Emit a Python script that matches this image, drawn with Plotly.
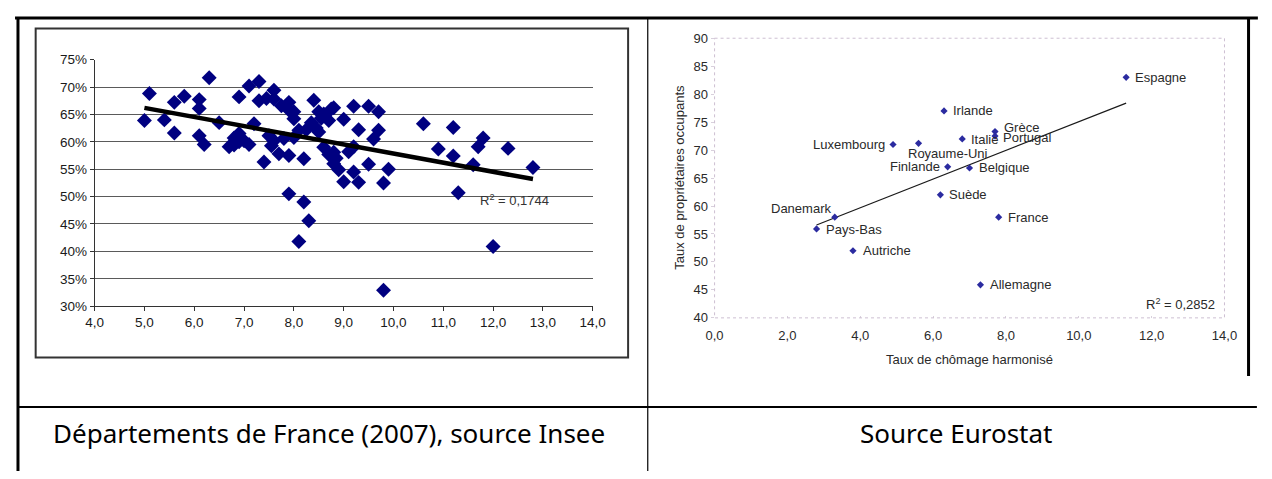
import plotly.graph_objects as go

# The page body keeps its default 8px margin, so the figure is drawn 8px in
# from the window's corner and sized to fill the rest of the 1272x479 window.
OFF = 8
W, H = 1272 - 2 * OFF, 479 - 2 * OFF


def px(x):
    return (x - OFF) / W


def py(y):
    return 1 - (y - OFF) / H


# ---------------- Left chart: Départements de France (2007) ----------------
dep_chomage = [5.0, 5.1, 5.4, 5.6, 5.6, 5.8, 6.1, 6.1, 6.1, 6.2, 6.3, 6.5, 6.7, 6.8, 6.8,
               6.9, 6.9, 7.0, 7.1, 7.1, 7.2, 7.3, 7.3, 7.4, 7.45, 7.5, 7.55, 7.6, 7.6, 7.7,
               7.75, 7.8, 7.9, 7.9, 7.9, 8.0, 8.0, 8.1, 8.1, 8.2, 8.2, 8.25, 8.3, 8.4, 8.45,
               8.5, 8.6, 8.6, 8.7, 8.7, 8.75, 8.8, 8.8, 8.8, 8.9, 9.0, 9.0, 9.1, 9.2, 9.2,
               9.2, 9.3, 9.3, 9.5, 9.5, 9.6, 9.7, 9.7, 9.8, 9.8, 9.9, 10.6, 10.9, 11.2, 11.2,
               11.3, 11.6, 11.7, 11.8, 12.0, 12.3, 12.8, 7.6, 8.35, 8.55, 8.0, 6.9, 8.5, 7.9, 8.85]
dep_proprio_pct = [63.9, 68.8, 64.0, 61.6, 67.2, 68.3, 67.7, 66.1, 61.1, 59.5, 71.7, 63.5, 59.1, 60.7, 59.4,
                   68.2, 61.5, 60.2, 59.5, 70.2, 63.3, 71.0, 67.5, 56.3, 67.9, 61.1, 59.3, 69.4, 67.8, 57.8,
                   66.6, 60.6, 67.2, 57.5, 50.5, 65.5, 64.2, 41.8, 62.1, 56.9, 49.0, 62.2, 45.6, 67.6, 62.5,
                   65.5, 65.1, 59.0, 63.9, 57.7, 66.0, 66.2, 56.0, 58.1, 54.9, 64.1, 52.7, 58.2, 59.1, 54.5,
                   66.5, 62.2, 52.6, 66.5, 55.9, 60.5, 65.5, 62.1, 52.5, 32.9, 55.0, 63.3, 58.7, 62.6, 57.4,
                   50.7, 55.8, 59.1, 60.7, 40.9, 58.8, 55.3, 60.2, 63.5, 64.3, 60.8, 60.0, 61.8, 65.8, 57.0]
dep_trend_x = [5.0, 12.8]
dep_trend_pct = [66.2, 53.2]
dep_r2_text = "R<sup>2</sup> = 0,1744"
dep_r2_pos = (11.7, 49.3)
dep_xticks = [4, 5, 6, 7, 8, 9, 10, 11, 12, 13, 14]
dep_yticks_pct = [30, 35, 40, 45, 50, 55, 60, 65, 70, 75]

# ---------------- Right chart: Eurostat ----------------
pays = ["Espagne", "Irlande", "Grèce", "Portugal", "Italie", "Royaume-Uni", "Luxembourg",
        "Finlande", "Belgique", "Suède", "France", "Danemark", "Pays-Bas", "Autriche", "Allemagne"]
pays_chomage = [11.3, 6.3, 7.7, 7.7, 6.8, 5.6, 4.9, 6.4, 7.0, 6.2, 7.8, 3.3, 2.8, 3.8, 7.3]
pays_proprio = [83.0, 77.0, 73.3, 72.5, 72.0, 71.2, 71.0, 67.0, 66.8, 62.0, 58.0, 58.0, 55.9, 52.0, 45.9]
pays_trend_x = [2.8, 11.3]
pays_trend_y = [56.6, 78.4]
pays_r2_text = "R<sup>2</sup> = 0,2852"
pays_r2_pos = (13.8, 42.4)
pays_xticks = [0, 2, 4, 6, 8, 10, 12, 14]
pays_yticks = [40, 45, 50, 55, 60, 65, 70, 75, 80, 85, 90]

# label placement (style): anchor side and pixel shifts
pays_label_anchor = ["left", "left", "left", "left", "left", "left", "right",
                     "right", "left", "left", "left", "right", "left", "left", "left"]
pays_label_dx = [7, 7, 7, 6, 7, -13, -6, -6, 7, 7, 7, -2, 7, 8, 8]
pays_label_dy = [0, 0, 4, -1, -1, -10, 0, 0, 0, 0, 0, 9, -1, 0, 0]

caption_left = "Départements de France (2007), source Insee"
caption_right = "Source Eurostat"

ARIAL = "Arial, Liberation Sans, sans-serif"

fig = go.Figure()

# left scatter
fig.add_trace(go.Scatter(
    x=dep_chomage, y=[v / 100 for v in dep_proprio_pct], mode="markers",
    marker=dict(symbol="diamond", size=11.5, color="#000080", line=dict(width=0)),
    xaxis="x", yaxis="y", showlegend=False, hoverinfo="skip"))
fig.add_trace(go.Scatter(
    x=dep_trend_x, y=[v / 100 for v in dep_trend_pct], mode="lines",
    line=dict(color="#000000", width=4.5), xaxis="x", yaxis="y",
    showlegend=False, hoverinfo="skip"))

# right trend + scatter
fig.add_trace(go.Scatter(
    x=pays_trend_x, y=pays_trend_y, mode="lines",
    line=dict(color="#1a1a1a", width=1.2), xaxis="x2", yaxis="y2",
    showlegend=False, hoverinfo="skip"))
fig.add_trace(go.Scatter(
    x=pays_chomage, y=pays_proprio, mode="markers",
    marker=dict(symbol="diamond", size=5.5, color="#2b2ba0", line=dict(width=0)),
    xaxis="x2", yaxis="y2", showlegend=False, hoverinfo="skip", cliponaxis=False))

annotations = [
    dict(x=dep_r2_pos[0], y=dep_r2_pos[1] / 100, xref="x", yref="y", text=dep_r2_text,
         showarrow=False, xanchor="left", yanchor="middle",
         font=dict(family=ARIAL, size=13, color="#333333")),
    dict(x=pays_r2_pos[0], y=pays_r2_pos[1], xref="x2", yref="y2", text=pays_r2_text,
         showarrow=False, xanchor="right", yanchor="middle",
         font=dict(family=ARIAL, size=13, color="#2a2a2a")),
    dict(x=px(326), y=py(440), xref="paper", yref="paper", text=caption_left,
         showarrow=False, xanchor="center", yanchor="middle",
         font=dict(family="Noto Sans, sans-serif", size=26, color="#000000")),
    dict(x=px(964), y=py(440), xref="paper", yref="paper", text=caption_right,
         showarrow=False, xanchor="center", yanchor="middle",
         font=dict(family="Noto Sans, sans-serif", size=26, color="#000000")),
    dict(x=px(977), y=py(364), xref="paper", yref="paper", text="Taux de chômage harmonisé",
         showarrow=False, xanchor="center", yanchor="middle",
         font=dict(family=ARIAL, size=13, color="#2a2a2a")),
    dict(x=px(682), y=py(176), xref="paper", yref="paper", text="Taux de propriétaires occupants",
         showarrow=False, xanchor="center", yanchor="middle", textangle=-90,
         font=dict(family=ARIAL, size=13, color="#2a2a2a")),
]
for name, xv, yv, anc, dx, dy in zip(pays, pays_chomage, pays_proprio,
                                     pays_label_anchor, pays_label_dx, pays_label_dy):
    annotations.append(dict(x=xv, y=yv, xref="x2", yref="y2", text=name, showarrow=False,
                            xanchor=anc, yanchor="middle", xshift=dx, yshift=dy,
                            font=dict(family=ARIAL, size=13, color="#2a2a2a")))

shapes = [
    # table lines
    dict(type="line", xref="paper", yref="paper", x0=px(6), x1=px(1271), y0=py(11), y1=py(11),
         line=dict(color="#000000", width=3)),
    dict(type="line", xref="paper", yref="paper", x0=px(9), x1=px(9), y0=py(10), y1=py(480),
         line=dict(color="#000000", width=3)),
    dict(type="line", xref="paper", yref="paper", x0=px(650), x1=px(650), y0=py(11), y1=py(480),
         line=dict(color="#000000", width=1.2)),
    dict(type="line", xref="paper", yref="paper", x0=px(8), x1=px(1270), y0=py(413), y1=py(413),
         line=dict(color="#000000", width=2)),
    dict(type="line", xref="paper", yref="paper", x0=px(1261.5), x1=px(1261.5), y0=py(12), y1=py(381),
         line=dict(color="#000000", width=3)),
    # left chart area frame
    dict(type="rect", xref="paper", yref="paper", x0=px(27), x1=px(630), y0=py(22), y1=py(362),
         line=dict(color="#333333", width=2), fillcolor="rgba(0,0,0,0)"),
    # right plot area dotted frame
    dict(type="rect", xref="paper", yref="paper", x0=px(718), x1=px(1237), y0=py(32), y1=py(321),
         line=dict(color="#cdbfd2", width=1, dash="dot"), fillcolor="rgba(0,0,0,0)"),
]

fig.update_layout(
    width=W, height=H,
    margin=dict(l=0, r=0, t=0, b=0),
    paper_bgcolor="#ffffff", plot_bgcolor="rgba(0,0,0,0)",
    separators=", ",
    showlegend=False,
    annotations=annotations,
    shapes=shapes,
    xaxis=dict(domain=[px(87), px(594)], range=[4, 14], tickvals=dep_xticks, tickformat=".1f",
               showgrid=False, zeroline=False, showline=True, linecolor="#333333", linewidth=1,
               ticks="outside", ticklen=4, tickcolor="#333333",
               tickfont=dict(family=ARIAL, size=13.5, color="#1a1a1a"), anchor="y",
               fixedrange=True),
    yaxis=dict(domain=[py(309), py(54)], range=[0.2999, 0.7502],
               tickvals=[v / 100 for v in dep_yticks_pct], tickformat=".0%",
               showgrid=True, gridcolor="#5a5a5a", gridwidth=1, zeroline=False,
               showline=True, linecolor="#333333", linewidth=1,
               ticks="outside", ticklen=4, tickcolor="#333333",
               tickfont=dict(family=ARIAL, size=13.5, color="#1a1a1a"), anchor="x",
               fixedrange=True),
    xaxis2=dict(domain=[px(718), px(1237)], range=[0, 14], tickvals=pays_xticks, tickformat=".1f",
                showgrid=False, zeroline=False, showline=False,
                ticks="inside", ticklen=2, tickcolor="#d8d0dc",
                tickfont=dict(family=ARIAL, size=13, color="#2a2a2a"), anchor="y2",
                ticklabelstandoff=8, fixedrange=True),
    yaxis2=dict(domain=[py(321), py(32)], range=[40, 90], tickvals=pays_yticks,
                showgrid=False, zeroline=False, showline=False,
                ticks="outside", ticklen=3, tickcolor="#d8d0dc",
                tickfont=dict(family=ARIAL, size=13, color="#2a2a2a"), anchor="x2",
                fixedrange=True),
)

fig.write_html("out.html", config={"displayModeBar": False})
